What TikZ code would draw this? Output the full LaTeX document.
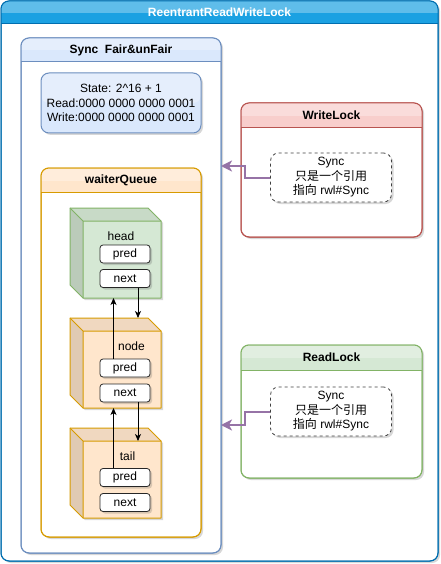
\documentclass[tikz,border=0pt]{standalone}
\usepackage{fontspec}
\setmainfont{Liberation Sans}
\newfontfamily\cjk{Noto Sans CJK SC}
\usetikzlibrary{arrows.meta,calc,shadows}
\definecolor{bluehdr}{HTML}{1BA1E2}
\definecolor{blueborder}{HTML}{006EAF}
\definecolor{lblue}{HTML}{DAE8FC}
\definecolor{bblue}{HTML}{6C8EBF}
\definecolor{lorange}{HTML}{FFE6CC}
\definecolor{borange}{HTML}{D79B00}
\definecolor{lgreen}{HTML}{D5E8D4}
\definecolor{bgreen}{HTML}{82B366}
\definecolor{lred}{HTML}{F8CECC}
\definecolor{bred}{HTML}{B85450}
\definecolor{purp}{HTML}{9673A6}
\tikzset{
  txt/.style={font=\fontsize{12}{14.5}\selectfont},
  btxt/.style={font=\fontsize{12}{14.5}\selectfont\bfseries},
  shad/.style={drop shadow={shadow xshift=2pt, shadow yshift=-2pt, opacity=0.22, fill=black!70}},
  field/.style={txt, draw=black!85, fill=white, rounded corners=3, minimum width=50, minimum height=18, inner sep=0, line width=0.8pt, shad},
  refbox/.style={txt, draw=black!75, fill=white, rounded corners=8, dash pattern=on 3pt off 3pt, line width=0.8pt, minimum width=121, minimum height=49, inner sep=0, align=center, shad},
  arr/.style={draw=black, line width=0.8pt, -{Stealth[length=7pt,width=6pt,inset=2pt]}},
  parr/.style={draw=purp, line width=2pt, -{Stealth[length=11pt,width=11pt,inset=3pt]}},
}
% #1 name #2 x1 #3 y1 #4 x2 #5 y2 #6 header bottom #7 fill #8 draw #9 title
\newcommand\mylane[9]{%
  \node[draw=#8, fill=white, rounded corners=8, line width=1pt, shad, minimum width={#4-#2}, minimum height={#5-#3}, inner sep=0, outer sep=0, anchor=north west] (#1) at (#2,#3) {};
  \begin{scope}
    \clip (#2,#3) rectangle (#4,#6);
    \fill[#7, rounded corners=8] (#2,#3) rectangle (#4,#5);
    \begin{scope}
      \clip (#2,#3) rectangle (#4,{(#3+#6)/2});
      \fill[white, opacity=.3, rounded corners=8] (#2,#3) rectangle (#4,#5);
    \end{scope}
  \end{scope}
  \draw[#8, line width=1pt] (#2,#6) -- (#4,#6);
  \draw[#8, line width=1pt, rounded corners=8] (#2,#3) rectangle (#4,#5);
  \node[btxt] (#1-title) at ({(#2+#4)/2},{(#3+#6)/2}) {#9};
}
% #1 name #2 x #3 y #4 fill #5 draw
\newcommand\mycube[5]{%
  \node[minimum width=91, minimum height=90, inner sep=0, outer sep=0, anchor=north west] (#1) at (#2,#3) {};
  \fill[#4, shad] (#2,#3) -- (#2+78,#3) -- (#2+91,#3+13) -- (#2+91,#3+90) -- (#2+13,#3+90) -- (#2,#3+77) -- cycle;
  \fill[black, opacity=.06] (#2,#3) -- (#2+78,#3) -- (#2+91,#3+13) -- (#2+13,#3+13) -- cycle;
  \fill[black, opacity=.12] (#2,#3) -- (#2+13,#3+13) -- (#2+13,#3+90) -- (#2,#3+77) -- cycle;
  \draw[#5, line width=1pt, line join=round] (#2,#3) -- (#2+78,#3) -- (#2+91,#3+13) -- (#2+91,#3+90) -- (#2+13,#3+90) -- (#2,#3+77) -- cycle;
  \draw[#5, line width=1pt, line join=round] (#2,#3) -- (#2+13,#3+13) -- (#2+91,#3+13) (#2+13,#3+13) -- (#2+13,#3+90);
}
\begin{document}
\begin{tikzpicture}[x=1pt,y=-1pt]
\useasboundingbox (0,0) rectangle (441,564);
\mylane{rrwl}{1}{1}{438}{561}{24}{bluehdr}{blueborder}{\color{white}ReentrantReadWriteLock}
\mylane{sync}{21}{38}{221}{553}{62}{lblue}{bblue}{Sync~~Fair\&unFair}
\node[txt, draw=bblue, fill=lblue, rounded corners=8, line width=1pt, minimum width=160, minimum height=60, inner sep=0, align=center, shad,
  path picture={\fill[white,opacity=.3] (path picture bounding box.north west) rectangle ($(path picture bounding box.east)+(0,0)$);}] (state) at (121,103)
  {State: 2\textasciicircum 16 + 1\\Read:0000 0000 0000 0001\\Write:0000 0000 0000 0001};
\mylane{wq}{41}{168}{201}{537}{192}{lorange}{borange}{waiterQueue}
\mycube{head}{70}{208}{lgreen}{bgreen}
\mycube{node}{70}{318}{lorange}{borange}
\mycube{tail}{70}{428}{lorange}{borange}
\node[txt] (headlbl) at (121,236) {head};
\node[txt] (nodelbl) at (131.5,346) {node};
\node[txt] (taillbl) at (127.5,456) {tail};
\node[field] (hpred) at (125,254) {pred};
\node[field] (hnext) at (125,278.5) {next};
\node[field] (npred) at (125,368) {pred};
\node[field] (nnext) at (125,393) {next};
\node[field] (tpred) at (125,477.5) {pred};
\node[field] (tnext) at (125,502.5) {next};
\coordinate (la) at (113.5,0);
\coordinate (ra) at (138,0);
\draw[arr] (npred.north -| la) -- (head.south -| la);
\draw[arr] (hnext.south -| ra) -- (node.north -| ra);
\draw[arr] (tpred.north -| la) -- (node.south -| la);
\draw[arr] (nnext.south -| ra) -- ($(tail.north -| ra)+(0,13)$);
\mylane{wl}{241}{103}{422}{237}{128}{lred}{bred}{WriteLock}
\node[refbox] (wsync) at (331,177.5) {Sync\\{\cjk 只是一个引用}\\{\cjk 指向} rwl\#Sync};
\mylane{rl}{241}{345}{422}{478}{370}{lgreen}{bgreen}{ReadLock}
\node[refbox] (rsync) at (331,411.5) {Sync\\{\cjk 只是一个引用}\\{\cjk 指向} rwl\#Sync};
\coordinate (wy) at (0,166);
\coordinate (ry) at (0,425);
\draw[parr] (wsync.west) -- ++(-25.5,0) |- (sync.east |- wy);
\draw[parr] (rsync.west) -- ++(-25.5,0) |- (sync.east |- ry);
\end{tikzpicture}
\end{document}
